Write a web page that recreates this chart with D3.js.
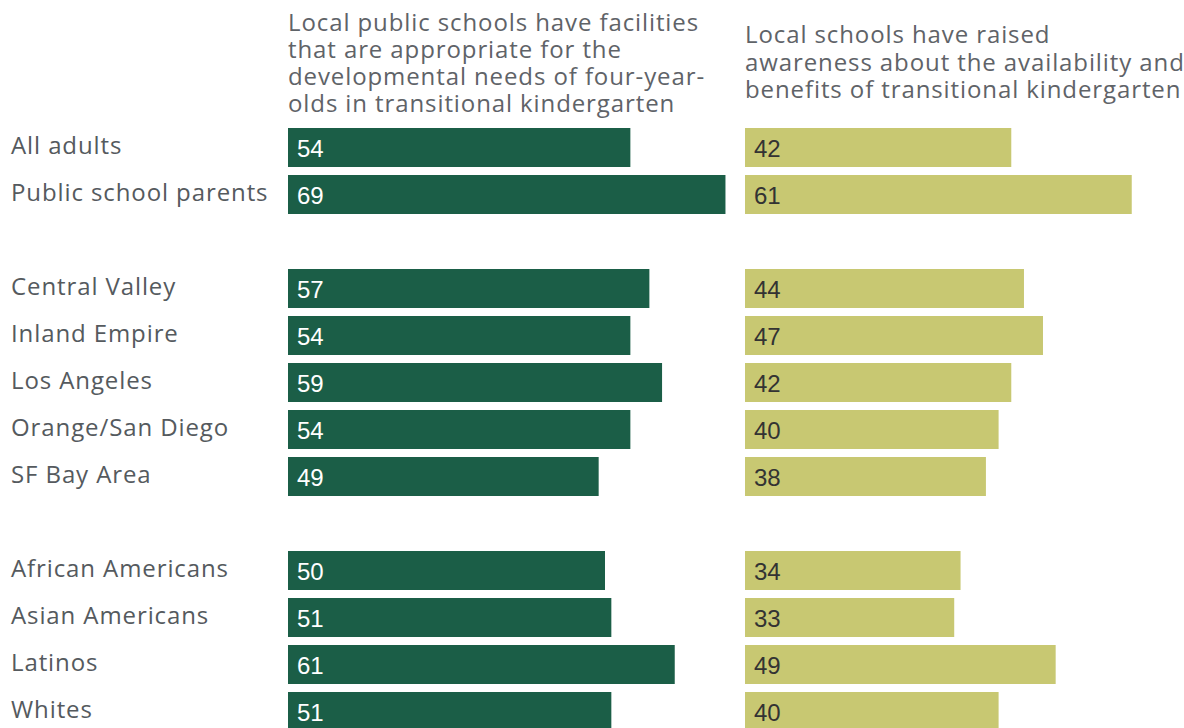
<!DOCTYPE html>
<html>
<head>
<meta charset="utf-8">
<script src="https://cdn.jsdelivr.net/npm/d3@7"></script>
<style>
  html, body { margin: 0; padding: 0; background: #fff; }
  svg { display: block; }
</style>
</head>
<body>
<svg id="chart" width="1184" height="728"></svg>
<script>
// Survey groups, in display order; null marks a spacer row between groups
const categories = [
  "All adults", "Public school parents", null,
  "Central Valley", "Inland Empire", "Los Angeles", "Orange/San Diego", "SF Bay Area", null,
  "African Americans", "Asian Americans", "Latinos", "Whites"
];
// Percent agreeing: appropriate facilities for four-year-olds
const facilities = [54, 69, null, 57, 54, 59, 54, 49, null, 50, 51, 61, 51];
// Percent agreeing: schools raised awareness of transitional kindergarten
const awareness = [42, 61, null, 44, 47, 42, 40, 38, null, 34, 33, 49, 40];

const titleFacilities = [
  "Local public schools have facilities",
  "that are appropriate for the",
  "developmental needs of four-year-",
  "olds in transitional kindergarten"
];
const titleAwareness = [
  "Local schools have raised",
  "awareness about the availability and",
  "benefits of transitional kindergarten"
];

const svg = d3.select("#chart");
const FONT = "'Open Sans', Lato, sans-serif";
const VALFONT = "'Liberation Sans', Arial, sans-serif";
const FS = 24, LS = 0.9;

// 13 rows, 47px apart, bars 39px tall
const y = d3.scaleBand()
  .domain(d3.range(categories.length))
  .range([128, 731])
  .paddingInner(8 / 47)
  .paddingOuter(0);

const w = d3.scaleLinear().domain([0, 100]).range([0, 634]);

const panels = [
  { x0: 288, values: facilities, fill: "#1b5e47", text: "#ffffff",
    title: titleFacilities, titleY: 31, titleStep: 27 },
  { x0: 745, values: awareness, fill: "#c8c872", text: "#333333",
    title: titleAwareness, titleY: 43, titleStep: 27.5 }
];

// Row labels
svg.append("g").selectAll("text")
  .data(categories.map((c, i) => ({ c, i })).filter(d => d.c))
  .join("text")
  .attr("x", 11)
  .attr("y", d => y(d.i) + y.bandwidth() / 2 + 6)
  .attr("font-family", FONT)
  .attr("font-size", FS)
  .attr("letter-spacing", LS)
  .attr("fill", "#555a5e")
  .text(d => d.c);

panels.forEach(p => {
  const g = svg.append("g");

  // Panel heading, one text per line
  g.selectAll("text.title")
    .data(p.title)
    .join("text")
    .attr("class", "title")
    .attr("x", p.x0)
    .attr("y", (d, i) => p.titleY + i * p.titleStep)
    .attr("font-family", FONT)
    .attr("font-size", FS)
    .attr("letter-spacing", LS)
    .attr("fill", "#5f6368")
    .text(d => d);

  const rows = p.values.map((v, i) => ({ v, i })).filter(d => d.v != null);

  g.selectAll("rect")
    .data(rows)
    .join("rect")
    .attr("x", p.x0)
    .attr("y", d => y(d.i))
    .attr("width", d => w(d.v))
    .attr("height", y.bandwidth())
    .attr("fill", p.fill);

  g.selectAll("text.val")
    .data(rows)
    .join("text")
    .attr("class", "val")
    .attr("x", p.x0 + 9)
    .attr("y", d => y(d.i) + y.bandwidth() / 2 + 9)
    .attr("font-family", VALFONT)
    .attr("font-size", 24)
    .attr("fill", p.text)
    .text(d => d.v);
});
</script>
</body>
</html>
